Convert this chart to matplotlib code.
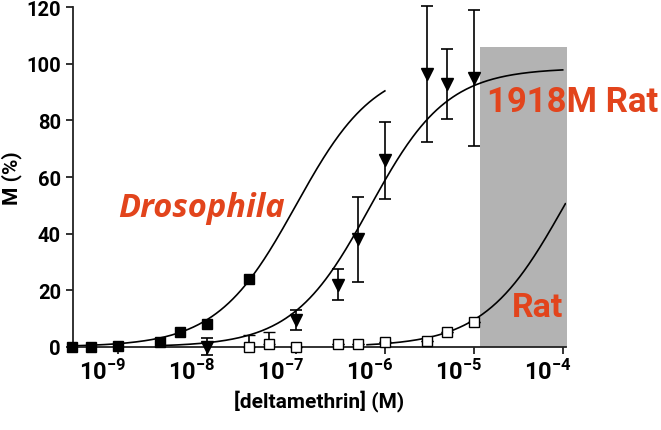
import numpy as np
import matplotlib
matplotlib.use('Agg')
import matplotlib.pyplot as plt
from matplotlib.transforms import ScaledTranslation

plt.rcParams['font.family'] = ['Roboto', 'DejaVu Sans']
plt.rcParams['font.weight'] = 'bold'
plt.rcParams['axes.labelweight'] = 'bold'
plt.rcParams['mathtext.fontset'] = 'custom'
plt.rcParams['mathtext.rm'] = 'Roboto:bold'
plt.rcParams['mathtext.default'] = 'rm'

# data (concentration in M, response in %)
dros_x = [3e-10, 5e-10, 1e-9, 3e-9, 5e-9, 1e-8, 3e-8]
dros_y = [0, 0, 0.4, 1.8, 5.4, 8.2, 24]

m1918_x = [1e-8, 1e-7, 3e-7, 5e-7, 1e-6, 3e-6, 5e-6, 1e-5]
m1918_y = [0, 9.5, 22, 38, 66, 96.5, 93, 95]
m1918_err = [3, 3.5, 5.5, 15, 13.6, 24, 12.4, 24]

rat_x = [3e-8, 5e-8, 1e-7, 3e-7, 5e-7, 1e-6, 3e-6, 5e-6, 1e-5]
rat_y = [0, 1, 0, 1, 1, 1.8, 2.1, 5.3, 8.8]
rat_err = [4, 4.2, 0, 0, 0, 0, 0, 0, 0]

# Hill fits (top, logEC50, slope, log x range)
dros_fit = (100, -7.0, 0.975, -9.5, -6.0)
m1918_fit = (98.5, -6.17, 1.0, -8.5, -4.0)
rat_fit = (100, -3.98, 0.96, -6.2, -3.97)

shade_x = [10**-4.93, 10**-3.955]
shade_top = 106

xticks = [1e-9, 1e-8, 1e-7, 1e-6, 1e-5, 1e-4]
xticklabels = [r'$10^{-9}$', r'$10^{-8}$', r'$10^{-7}$', r'$10^{-6}$', r'$10^{-5}$', r'$10^{-4}$']
red = '#e2441c'


def hill(p):
    top, logec, n, lo, hi = p
    lx = np.linspace(lo, hi, 300)
    return 10**lx, top / (1 + 10**((logec - lx) * n))


fig = plt.figure(figsize=(6.61, 4.31), dpi=100)
ax = fig.add_axes([0.110, 0.193, 0.746, 0.788])

ax.fill_between(shade_x, 0, shade_top, color='#b3b3b3', lw=0, zorder=1)

for p in [dros_fit, m1918_fit, rat_fit]:
    cx, cy = hill(p)
    ax.plot(cx, cy, color='k', lw=1.2, zorder=2)

eb = ax.errorbar(m1918_x, m1918_y, yerr=m1918_err, fmt='v', color='k', ms=9,
                 capsize=4.5, elinewidth=1.2, capthick=1.2, zorder=3)
for a in eb.get_children():
    a.set_clip_on(False)
eb2 = ax.errorbar(rat_x, rat_y, yerr=[[0] * len(rat_err), rat_err], fmt='s', color='k',
                  mfc='white', mec='k', mew=1.0, ms=7, capsize=4.5, elinewidth=1.2,
                  capthick=1.2, zorder=4)
for a in eb2.get_children():
    a.set_clip_on(False)
ax.plot(dros_x, dros_y, 's', color='k', ms=7.2, zorder=4, clip_on=False)

ax.text(10**-9.0, 46.2, 'Drosophila', color=red, fontsize=23.5, style='italic',
        fontweight='bold', family='Open Sans', ha='left', va='baseline', zorder=5)
ax.text(10**-4.853, 83.3, '1918M Rat', color=red, fontsize=25, fontweight='bold',
        ha='left', va='baseline', zorder=5)
ax.text(10**-4.57, 10.9, 'Rat', color=red, fontsize=24.5, fontweight='bold',
        ha='left', va='baseline', zorder=5)

ax.set_xscale('log')
ax.set_xlim(10**-9.51, 10**-3.965)
ax.set_ylim(0, 120)
ax.set_xticks(xticks)
ax.set_xticklabels(xticklabels, fontsize=17)
ax.xaxis.set_minor_locator(matplotlib.ticker.NullLocator())
ax.set_yticks(range(0, 121, 20))
ax.tick_params(axis='y', labelsize=14.5)
ax.tick_params(direction='out', length=5, width=1.3, color='#222222')
for lab in ax.get_xticklabels():
    lab.set_transform(lab.get_transform() + ScaledTranslation(-15 / 100, 0, fig.dpi_scale_trans))

for s in ['top', 'right']:
    ax.spines[s].set_visible(False)
for s in ['left', 'bottom']:
    ax.spines[s].set_linewidth(1.3)
    ax.spines[s].set_color('#222222')

ax.set_xlabel('[deltamethrin] (M)', fontsize=15, labelpad=4)
ax.set_ylabel('M (%)', fontsize=15, labelpad=3)

fig.savefig('out.png', dpi=100)
